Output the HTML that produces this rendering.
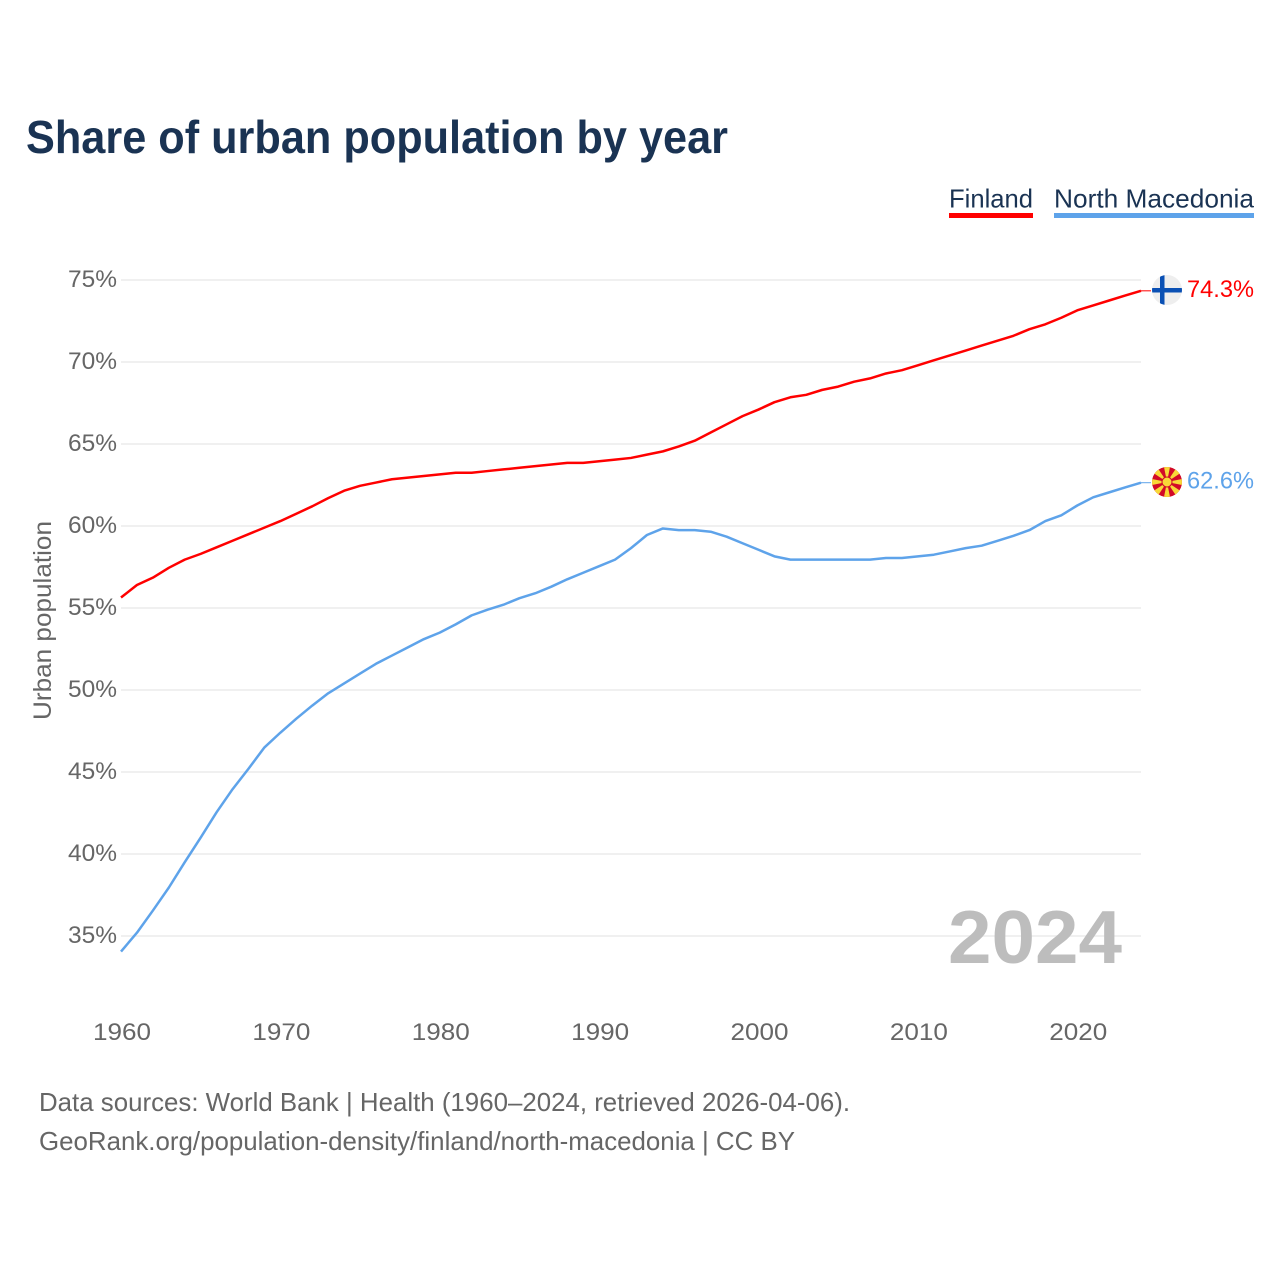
<!DOCTYPE html>
<html lang="en">
<head>
<meta charset="utf-8">
<title>Share of urban population by year</title>
<style>
html,body{margin:0;padding:0;background:#fff;width:1280px;height:1280px;overflow:hidden}
svg{display:block}
text{font-family:"Liberation Sans",sans-serif}
</style>
</head>
<body>
<svg id="chart" width="1280" height="1280" viewBox="0 0 1280 1280" xmlns="http://www.w3.org/2000/svg">
  <rect width="1280" height="1280" fill="#fff"/>
  <text x="26" y="153" font-size="46" font-weight="700" fill="#1a3353" textLength="702" lengthAdjust="spacingAndGlyphs">Share of urban population by year</text>

  <g>
    <text x="949" y="207.5" font-size="26" fill="#1a3353" textLength="84" lengthAdjust="spacingAndGlyphs">Finland</text>
    <rect x="949" y="213" width="84" height="5" fill="#ff0000"/>
  </g>
  <g>
    <text x="1054" y="207.5" font-size="26" fill="#1a3353" textLength="200" lengthAdjust="spacingAndGlyphs">North Macedonia</text>
    <rect x="1054" y="213" width="200" height="5" fill="#5ea3ea"/>
  </g>

  <g id="grid"></g>
  <g id="yticks"></g>
  <g id="xticks"></g>
  <text transform="translate(51,620.5) rotate(-90)" text-anchor="middle" font-size="25" fill="#666" textLength="199" lengthAdjust="spacingAndGlyphs">Urban population</text>

  <text x="948" y="963" font-size="75" font-weight="700" fill="#bdbdbd" textLength="174" lengthAdjust="spacingAndGlyphs">2024</text>

  <g id="series"></g>

  <g>
    <clipPath id="clipFi"><circle cx="1167" cy="290" r="15"/></clipPath>
    <circle cx="1167" cy="290" r="15" fill="#eeeeee"/>
    <g clip-path="url(#clipFi)" fill="#0a50b4">
      <rect x="1152" y="288" width="30" height="4.5"/>
      <rect x="1160" y="275" width="4.5" height="30"/>
    </g>
  </g>
  <g>
    <clipPath id="clipMk"><circle cx="1167" cy="482" r="15"/></clipPath>
    <circle cx="1167" cy="482" r="15" fill="#d20a28"/>
    <g clip-path="url(#clipMk)" fill="#f8d838">
      <polygon points="1167,482 1163.8,466 1170.2,466"/>
      <polygon points="1167,482 1163.8,498 1170.2,498"/>
      <polygon points="1167,482 1151,478.8 1151,485.2"/>
      <polygon points="1167,482 1183,478.8 1183,485.2"/>
      <polygon points="1167,482 1163.8,466 1170.2,466" transform="rotate(45 1167 482)"/>
      <polygon points="1167,482 1163.8,466 1170.2,466" transform="rotate(135 1167 482)"/>
      <polygon points="1167,482 1163.8,466 1170.2,466" transform="rotate(225 1167 482)"/>
      <polygon points="1167,482 1163.8,466 1170.2,466" transform="rotate(315 1167 482)"/>
      <circle cx="1167" cy="482" r="5" stroke="#d20a28" stroke-width="1"/>
    </g>
  </g>

  <text x="39" y="1111" font-size="26" fill="#666" textLength="811" lengthAdjust="spacingAndGlyphs">Data sources: World Bank | Health (1960–2024, retrieved 2026-04-06).</text>
  <text x="39" y="1150" font-size="26" fill="#666" textLength="756" lengthAdjust="spacingAndGlyphs">GeoRank.org/population-density/finland/north-macedonia | CC BY</text>
</svg>
<script>
const startYear = 1960;
const yTickValues = [35, 40, 45, 50, 55, 60, 65, 70, 75];
const xTickYears = [1960, 1970, 1980, 1990, 2000, 2010, 2020];
const finlandValues = [55.64,56.4,56.85,57.45,57.95,58.3,58.7,59.1,59.5,59.9,60.3,60.75,61.2,61.7,62.15,62.45,62.65,62.85,62.95,63.05,63.15,63.25,63.25,63.35,63.45,63.55,63.65,63.75,63.85,63.85,63.95,64.05,64.15,64.35,64.55,64.85,65.2,65.7,66.2,66.7,67.1,67.55,67.85,68.0,68.3,68.5,68.8,69.0,69.3,69.5,69.8,70.1,70.4,70.7,71.0,71.3,71.6,72.0,72.3,72.7,73.15,73.45,73.75,74.05,74.34];
const macedoniaValues = [34.05,35.2,36.55,37.95,39.5,41.0,42.55,43.95,45.2,46.5,47.4,48.25,49.05,49.8,50.4,51.0,51.6,52.1,52.6,53.1,53.5,54.0,54.55,54.9,55.2,55.6,55.9,56.3,56.75,57.15,57.55,57.95,58.65,59.45,59.85,59.75,59.75,59.65,59.35,58.95,58.55,58.15,57.95,57.95,57.95,57.95,57.95,57.95,58.05,58.05,58.15,58.25,58.45,58.65,58.8,59.1,59.4,59.75,60.3,60.65,61.25,61.75,62.05,62.35,62.64];

const NS = 'http://www.w3.org/2000/svg';
function xScale(year) { return 121 + (year - 1960) * (1020 / 64); }
function yScale(v) { return 280 + (75 - v) * 16.4; }

const grid = document.getElementById('grid');
const yticks = document.getElementById('yticks');
const xticks = document.getElementById('xticks');
const seriesGroup = document.getElementById('series');

yTickValues.forEach(function (v) {
  const line = document.createElementNS(NS, 'line');
  
  
  line.setAttribute('x1', 121);
  line.setAttribute('x2', 1141);
  line.setAttribute('y1', yScale(v));
  line.setAttribute('y2', yScale(v));
  line.setAttribute('stroke', '#ececec');
  line.setAttribute('stroke-width', 1.5);
  grid.appendChild(line);

  const t = document.createElementNS(NS, 'text');
  
  
  t.setAttribute('x', 117);
  t.setAttribute('y', yScale(v) + 7);
  t.setAttribute('text-anchor', 'end');
  t.setAttribute('font-size', 24);
  t.setAttribute('fill', '#666');
  t.setAttribute('textLength', 49);
  t.setAttribute('lengthAdjust', 'spacingAndGlyphs');
  t.textContent = v + '%';
  yticks.appendChild(t);
});

xTickYears.forEach(function (y) {
  const t = document.createElementNS(NS, 'text');
  
  
  t.setAttribute('x', xScale(y) + 1);
  t.setAttribute('y', 1040);
  t.setAttribute('text-anchor', 'middle');
  t.setAttribute('font-size', 24);
  t.setAttribute('fill', '#666');
  t.setAttribute('textLength', 58);
  t.setAttribute('lengthAdjust', 'spacingAndGlyphs');
  t.textContent = y;
  xticks.appendChild(t);
});

function drawSeries(key, values, color) {
  const pts = values.map(function (v, i) {
    return xScale(startYear + i).toFixed(2) + ',' + yScale(v).toFixed(2);
  }).join(' ');
  const line = document.createElementNS(NS, 'polyline');
  
  
  line.setAttribute('points', pts);
  line.setAttribute('fill', 'none');
  line.setAttribute('stroke', color);
  line.setAttribute('stroke-width', 2.5);
  line.setAttribute('stroke-linejoin', 'round');
  seriesGroup.appendChild(line);

  const last = values[values.length - 1];
  const lastX = xScale(startYear + values.length - 1);
  const lastY = yScale(last);

  const tail = document.createElementNS(NS, 'line');
  
  
  tail.setAttribute('x1', lastX);
  tail.setAttribute('x2', lastX + 10);
  tail.setAttribute('y1', lastY);
  tail.setAttribute('y2', lastY);
  tail.setAttribute('stroke', color);
  tail.setAttribute('stroke-width', 1);
  seriesGroup.appendChild(tail);

  const t = document.createElementNS(NS, 'text');
  
  
  t.setAttribute('x', 1187);
  t.setAttribute('y', lastY + 6);
  t.setAttribute('font-size', 24);
  t.setAttribute('fill', color);
  t.setAttribute('textLength', 67);
  t.setAttribute('lengthAdjust', 'spacingAndGlyphs');
  t.textContent = last.toFixed(1) + '%';
  seriesGroup.appendChild(t);
}

drawSeries('finland', finlandValues, '#ff0000');
drawSeries('north-macedonia', macedoniaValues, '#5ea3ea');
</script>
</body>
</html>
